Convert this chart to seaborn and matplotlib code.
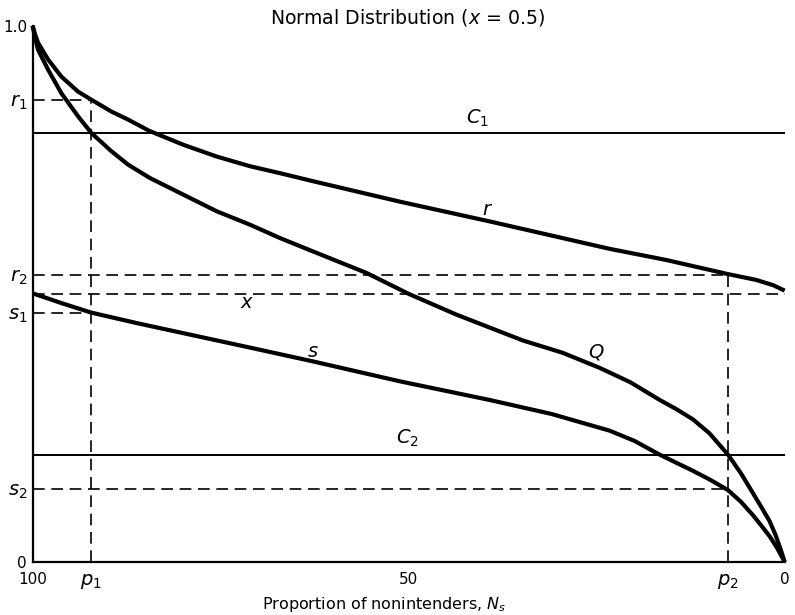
import matplotlib
matplotlib.use("Agg")
import matplotlib.pyplot as plt
import seaborn as sns
import pandas as pd

# ---- data ----
q_x = [100, 99.65, 99.27, 97.94, 96.17, 93.95, 92.19, 89.53, 87.31, 84.4, 79.96, 75.52, 71.1, 67.1,
       62.7, 55.6, 50, 43.6, 34.8, 29.5, 24.6, 20.5, 16.6, 14.4, 12.2, 10.0, 7.53, 5.8, 4.2, 3.0,
       2.0, 1.2, 0.5, 0]
q_y = [1.0, 0.976, 0.955, 0.918, 0.874, 0.831, 0.800, 0.766, 0.741, 0.716, 0.685, 0.654, 0.629, 0.604,
       0.579, 0.539, 0.50, 0.461, 0.413, 0.390, 0.362, 0.335, 0.302, 0.285, 0.266, 0.240, 0.20, 0.165,
       0.128, 0.100, 0.076, 0.050, 0.022, 0.0]

r_x = [100, 99.65, 99.27, 97.94, 96.17, 93.95, 92.19, 89.53, 87.31, 84.5, 79.96, 75.52, 71.1, 67.1,
       62.7, 51.2, 39.2, 23.3, 15.7, 7.6, 3.8, 1.5, 0]
r_y = [1.0, 0.983, 0.968, 0.937, 0.905, 0.877, 0.862, 0.840, 0.825, 0.804, 0.778, 0.756, 0.738, 0.725,
       0.710, 0.672, 0.635, 0.584, 0.563, 0.537, 0.526, 0.516, 0.506]

s_x = [100, 96.0, 92.2, 86.0, 80.4, 71.5, 62.7, 51.2, 39.2, 31.0, 23.3, 20.0, 16.6, 12.2, 10.0,
       7.53, 5.8, 4.2, 3.0, 2.0, 1.0, 0]
s_y = [0.501, 0.482, 0.465, 0.445, 0.428, 0.401, 0.374, 0.337, 0.302, 0.276, 0.245, 0.226, 0.20,
       0.170, 0.154, 0.134, 0.112, 0.087, 0.066, 0.048, 0.026, 0.0]

C1, C2 = 0.80, 0.20
r1, r2 = 0.862, 0.535
s1, s2 = 0.465, 0.136
x_level = 0.50
p1, p2 = 92.2, 7.6

x_ticks = [100, p1, 50, p2, 0]
x_ticklabels = ["100", "$p_1$", "50", "$p_2$", "0"]
y_ticks = [0, s2, s1, r2, r1, 1.0]
y_ticklabels = ["0", "$s_2$", "$s_1$", "$r_2$", "$r_1$", "1.0"]

title = "Normal Distribution ($x$ = 0.5)"
xlabel = "Proportion of nonintenders, $N_s$"

# ---- plot ----
sns.set_style("white")
plt.rcParams["font.family"] = ["DejaVu Sans"]
plt.rcParams["mathtext.fontset"] = "dejavusans"
plt.rcParams["text.color"] = "black"

fig = plt.figure(figsize=(7.95, 6.15), dpi=100)
ax = fig.add_axes([0.041, 0.0862, 0.946, 0.872])

curve_df = pd.concat([
    pd.DataFrame({"N": q_x, "v": q_y, "curve": "Q"}),
    pd.DataFrame({"N": r_x, "v": r_y, "curve": "r"}),
    pd.DataFrame({"N": s_x, "v": s_y, "curve": "s"}),
])
sns.lineplot(data=curve_df, x="N", y="v", units="curve", estimator=None,
             sort=False, color="black", linewidth=3.0, ax=ax, legend=False)
for ln in ax.lines:
    ln.set_clip_on(False)
    ln.set_solid_capstyle("butt")
    ln.set_solid_joinstyle("round")

# thin solid horizontal criteria
ax.plot([100, 0], [C1, C1], color="black", lw=1.4)
ax.plot([100, 0], [C2, C2], color="black", lw=1.4)

dash = dict(color="black", lw=1.2, dashes=(7, 4))
ax.plot([100, 0], [x_level, x_level], **dash)
ax.plot([100, p1], [r1, r1], **dash)
ax.plot([100, p1], [s1, s1], **dash)
ax.plot([100, p2], [r2, r2], **dash)
ax.plot([100, p2], [s2, s2], **dash)
ax.plot([p1, p1], [0, r1], **dash)
ax.plot([p2, p2], [0, r2], **dash)

ax.set_xlim(100, 0)
ax.set_ylim(0, 1.0)
sns.despine(ax=ax)
for sp in ("left", "bottom"):
    ax.spines[sp].set_linewidth(1.6)
    ax.spines[sp].set_color("black")

ax.set_xticks(x_ticks)
ax.set_xticklabels(x_ticklabels)
ax.set_yticks(y_ticks)
ax.set_yticklabels(y_ticklabels)
ax.tick_params(axis="both", direction="in", length=10, width=1.4, colors="black",
               labelcolor="black", labelsize=11)
ax.tick_params(axis="x", pad=7)
ax.tick_params(axis="y", pad=4)
for t in ax.get_xticklabels() + ax.get_yticklabels():
    if "$" in t.get_text():
        t.set_fontsize(14)

ax.set_xlabel(xlabel, fontsize=11.5, color="black")
ax.xaxis.set_label_coords(0.468, -0.062)
ax.set_ylabel("")

lbl = dict(fontsize=14, ha="center", va="center", color="black")
ax.text(40.8, 0.828, "$C_1$", **lbl)
ax.text(50.1, 0.231, "$C_2$", **lbl)
ax.text(39.5, 0.657, "$r$", **lbl)
ax.text(25.0, 0.392, "$Q$", **lbl)
ax.text(62.7, 0.392, "$s$", **lbl)
ax.text(71.5, 0.483, "$x$", **lbl)

fig.text(0.512, 0.972, title, ha="center", va="center", fontsize=13.6, color="black")

fig.savefig("out.png", dpi=100, facecolor="white")
